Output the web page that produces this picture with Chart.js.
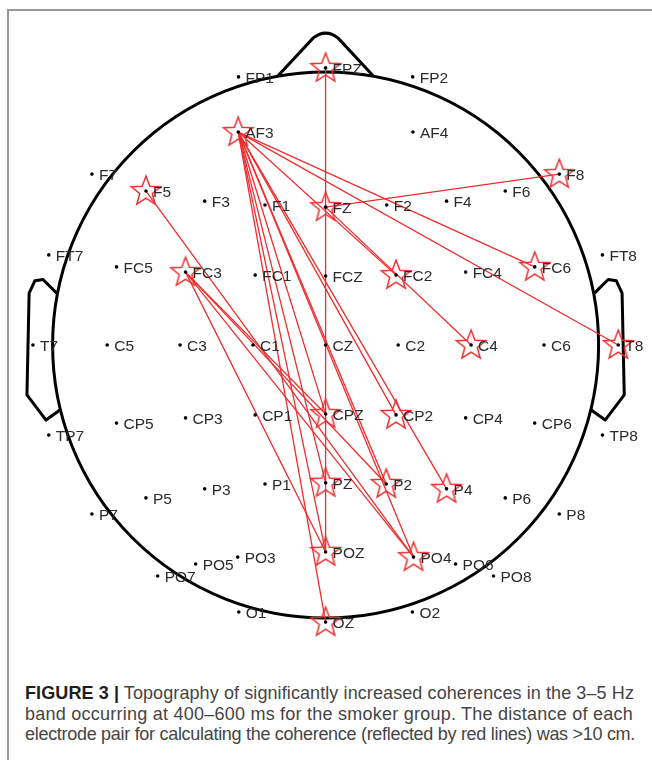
<!DOCTYPE html>
<html>
<head>
<meta charset="utf-8">
<script src="https://cdn.jsdelivr.net/npm/chart.js@4.4.1/dist/chart.umd.min.js"></script>
<style>
  html, body { margin: 0; padding: 0; background: #fff; }
  body { width: 652px; height: 760px; position: relative; overflow: hidden; }
  #frame { position: absolute; left: 7px; top: 9px; width: 700px; height: 800px;
           border-top: 2px solid #999; border-left: 2px solid #999; }
  #topo { position: absolute; left: 0; top: 0; }
  #caption { position: absolute; left: 25px; top: 683px; white-space: nowrap;
             font-family: "Liberation Sans", Arial, sans-serif;
             font-size: 15.5px; line-height: 20.5px; color: #454545; }
  #caption div { display: block; }
  #caption b { font-weight: 700; color: #1e1e1e; }
</style>
</head>
<body>
<div id="frame"></div>
<canvas id="topo" width="652" height="660"></canvas>
<div id="caption">
  <div><span><b>FIGURE 3 |</b> Topography of significantly increased coherences in the 3–5 Hz</span></div>
  <div><span>band occurring at 400–600 ms for the smoker group. The distance of each</span></div>
  <div><span>electrode pair for calculating the coherence (reflected by red lines) was &gt;10 cm.</span></div>
</div>
<script>
// electrode positions, head radius = 1, CZ at origin, nose up
const electrodes = ['FP1','FPZ','FP2','AF3','AF4',
  'F7','F5','F3','F1','FZ','F2','F4','F6','F8',
  'FT7','FC5','FC3','FC1','FCZ','FC2','FC4','FC6','FT8',
  'T7','C5','C3','C1','CZ','C2','C4','C6','T8',
  'TP7','CP5','CP3','CP1','CPZ','CP2','CP4','CP6','TP8',
  'P7','P5','P3','P1','PZ','P2','P4','P6','P8',
  'PO7','PO5','PO3','POZ','PO4','PO6','PO8',
  'O1','OZ','O2'];
const elecX = [-0.319, 0, 0.319, -0.32, 0.32,
  -0.856, -0.658, -0.443, -0.222, 0, 0.224, 0.443, 0.658, 0.856,
  -1.014, -0.766, -0.513, -0.258, 0, 0.258, 0.513, 0.766, 1.014,
  -1.072, -0.8, -0.533, -0.266, 0, 0.266, 0.533, 0.8, 1.072,
  -1.014, -0.766, -0.513, -0.258, 0, 0.258, 0.513, 0.766, 1.014,
  -0.856, -0.658, -0.443, -0.222, 0, 0.222, 0.443, 0.658, 0.856,
  -0.615, -0.476, -0.322, 0, 0.322, 0.476, 0.615,
  -0.318, 0, 0.318];
const elecY = [0.982, 1.015, 0.982, 0.78, 0.78,
  0.626, 0.564, 0.527, 0.513, 0.505, 0.513, 0.527, 0.564, 0.626,
  0.33, 0.286, 0.267, 0.256, 0.253, 0.256, 0.267, 0.286, 0.33,
  0, 0, 0, 0, 0, 0, 0, 0, 0,
  -0.33, -0.286, -0.267, -0.256, -0.253, -0.256, -0.267, -0.286, -0.33,
  -0.619, -0.56, -0.527, -0.509, -0.505, -0.509, -0.527, -0.56, -0.619,
  -0.846, -0.802, -0.777, -0.758, -0.777, -0.802, -0.846,
  -0.978, -1.015, -0.978];

// electrode pairs with increased coherence
const pairFrom = ['FPZ','FZ','AF3','AF3','AF3','FZ','AF3','AF3','AF3','AF3',
  'AF3','AF3','AF3','AF3','F5','FC3','FC3','FC3','FC3'];
const pairTo = ['POZ','F8','FC6','T8','FC2','C4','CPZ','PZ','POZ','OZ',
  'P2','PO4','CP2','P4','PO4','CPZ','P2','PO4','POZ'];

const RED = 'rgb(238, 45, 45)';

function pos(name) {
  const i = electrodes.indexOf(name);
  return { x: elecX[i], y: elecY[i] };
}

// electrodes that take part in a pair get a star
const starred = electrodes.filter(n => pairFrom.includes(n) || pairTo.includes(n));

// outlined star used as point style
const starImg = document.createElement('canvas');
starImg.width = 36; starImg.height = 36;
(function () {
  const c = starImg.getContext('2d');
  c.beginPath();
  for (let k = 0; k < 10; k++) {
    const r = k % 2 === 0 ? 15.5 : 6.6;
    const a = -Math.PI / 2 + k * Math.PI / 5;
    const px = 18 + r * Math.cos(a), py = 18.5 + r * Math.sin(a);
    if (k === 0) c.moveTo(px, py); else c.lineTo(px, py);
  }
  c.closePath();
  c.strokeStyle = RED;
  c.lineWidth = 1.5;
  c.lineJoin = 'miter';
  c.stroke();
})();

// head outline: circle, nose, ears (drawn in data units)
const headPlugin = {
  id: 'head',
  beforeDatasetsDraw(chart) {
    const ctx = chart.ctx, sx = chart.scales.x, sy = chart.scales.y;
    const X = v => sx.getPixelForValue(v), Y = v => sy.getPixelForValue(v);
    const rad = X(1) - X(0);
    ctx.save();
    ctx.strokeStyle = '#000';
    ctx.lineWidth = 3;
    ctx.lineJoin = 'round';
    ctx.beginPath();
    ctx.arc(X(0), Y(0), rad, 0, Math.PI * 2);
    ctx.stroke();
    // nose
    ctx.beginPath();
    ctx.moveTo(X(-0.175), Y(0.985));
    ctx.lineTo(X(-0.045), Y(1.125));
    ctx.quadraticCurveTo(X(0), Y(1.16), X(0.045), Y(1.125));
    ctx.lineTo(X(0.175), Y(0.985));
    ctx.stroke();
    // ears
    [-1, 1].forEach(s => {
      ctx.beginPath();
      ctx.moveTo(X(s * 0.985), Y(0.19));
      ctx.lineTo(X(s * 1.035), Y(0.24));
      ctx.lineTo(X(s * 1.065), Y(0.235));
      ctx.lineTo(X(s * 1.086), Y(0.19));
      ctx.lineTo(X(s * 1.094), Y(-0.183));
      ctx.lineTo(X(s * 1.024), Y(-0.275));
      ctx.lineTo(X(s * 0.973), Y(-0.238));
      ctx.stroke();
    });
    ctx.restore();
  }
};

// electrode names next to the dots
const labelPlugin = {
  id: 'labels',
  afterDatasetsDraw(chart) {
    const ctx = chart.ctx;
    const meta = chart.getDatasetMeta(0);
    ctx.save();
    ctx.font = '15.5px "Liberation Sans", Arial, sans-serif';
    ctx.fillStyle = '#2b2b2b';
    ctx.textBaseline = 'middle';
    meta.data.forEach((pt, i) => {
      ctx.fillText(electrodes[i], pt.x + 7, pt.y + 1.5);
    });
    ctx.restore();
  }
};

const lineSets = pairFrom.map((a, i) => ({
  data: [pos(a), pos(pairTo[i])],
  showLine: true,
  borderColor: RED,
  borderWidth: 1.3,
  pointRadius: 0,
  fill: false
}));

const data = {
  datasets: [{
    data: electrodes.map((n, i) => ({ x: elecX[i], y: elecY[i] })),
    pointRadius: 1.8,
    backgroundColor: '#000',
    borderWidth: 0
  }, {
    data: starred.map(pos),
    pointStyle: starImg,
    pointRadius: 15
  }].concat(lineSets)
};

// 273 px per head radius, CZ at (325.6, 345) on a 652 x 660 canvas
const config = {
  type: 'scatter',
  data: data,
  options: {
    responsive: false,
    animation: false,
    events: [],
    layout: { padding: 0, autoPadding: false },
    plugins: {
      legend: { display: false },
      tooltip: { enabled: false }
    },
    scales: {
      x: { display: false, min: -325.6 / 273, max: (652 - 325.6) / 273 },
      y: { display: false, min: -(660 - 345) / 273, max: 345 / 273 }
    }
  },
  plugins: [headPlugin, labelPlugin]
};

const topo = new Chart(document.getElementById('topo'), config);

// fit caption lines to the printed column width: font size first, then a small spacing fix
const cap = document.getElementById('caption');
const spans = Array.from(cap.querySelectorAll('span'));
const targets = [609, 608, 610];
const ratio = spans.reduce((a, s, i) => a + targets[i] / s.getBoundingClientRect().width, 0) / spans.length;
cap.style.fontSize = (15.5 * ratio).toFixed(2) + 'px';
spans.forEach((s, i) => {
  const w = s.getBoundingClientRect().width;
  s.style.letterSpacing = ((targets[i] - w) / s.textContent.length).toFixed(3) + 'px';
});
</script>
</body>
</html>
